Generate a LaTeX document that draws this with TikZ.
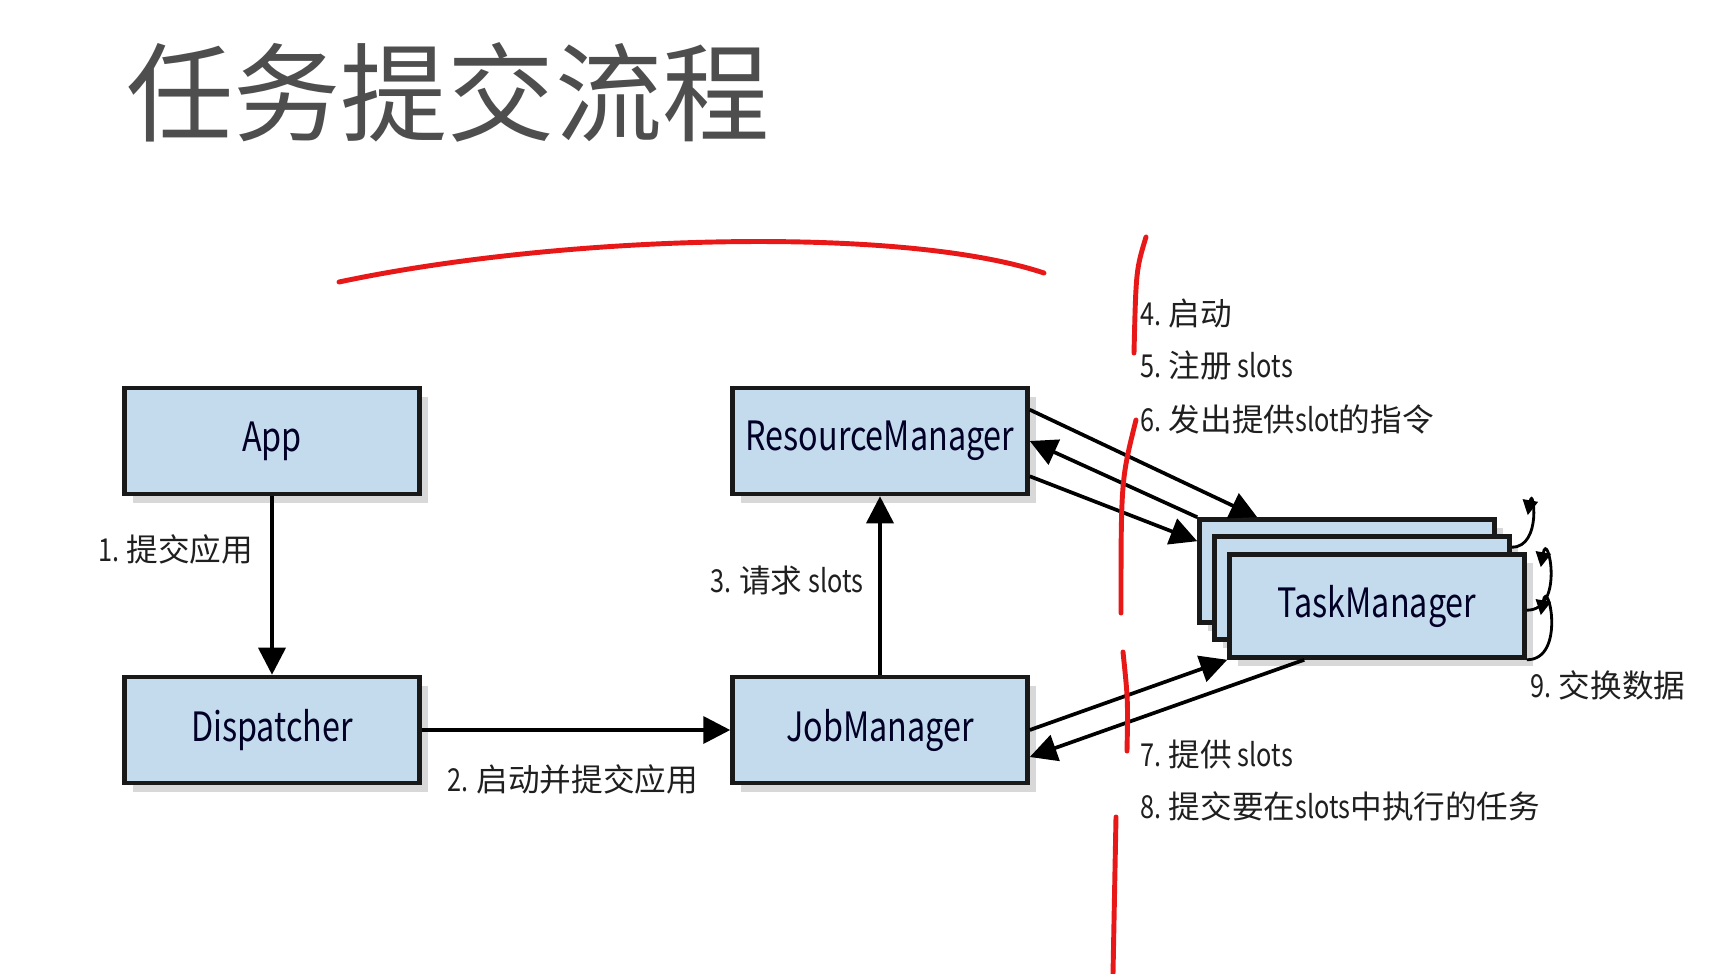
\documentclass[tikz,border=0pt]{standalone}
\usepackage{fontspec}
\usepackage{xcolor}
\usepackage{tikz}
\setmainfont[FakeStretch=0.8]{Noto Sans CJK SC}
\newfontfamily\zhfont{Noto Sans CJK SC}
\newcommand{\cn}[1]{{\zhfont #1}}
\usetikzlibrary{arrows.meta,shadows}
\definecolor{boxblue}{RGB}{196,218,237}
\definecolor{inkred}{RGB}{232,24,24}
\definecolor{titlegray}{RGB}{78,78,78}

\begin{document}
\begin{tikzpicture}[x=0.02cm, y=-0.02cm,
    box/.style={draw=black!90, line width=2.6pt, fill=boxblue, minimum width=5.9cm, minimum height=2.12cm,
        font=\fontsize{23}{24}\selectfont, text=black!85!blue,
        drop shadow={shadow xshift=5pt, shadow yshift=-5pt, opacity=0.3}},
    tmbox/.style={box, minimum height=2.06cm},
    lbl/.style={font=\fontsize{18}{20}\selectfont, text=black!88, inner sep=0pt},
    arr/.style={-{Triangle[width=0.54cm,length=0.54cm]}, line width=2.1pt},
    swap/.style={-{Triangle[width=0.3cm,length=0.3cm]}, line width=1.6pt},
    pen/.style={inkred, line width=2.8pt, line cap=round}]

    \useasboundingbox[fill=white] (0,0) rectangle (1732,974);

    \node[anchor=west, inner sep=0pt, font=\fontsize{61}{64}\selectfont, text=titlegray] (title) at (126,92) {\cn{任务提交流程}};

    \node[box] (app) at (272,441) {App};
    \node[box] (disp) at (272,730) {Dispatcher};
    \node[box] (rm) at (880,441) {ResourceManager};
    \node[box] (jm) at (880,730) {JobManager};
    \node[tmbox] (tm3) at (1347,571) {};
    \node[tmbox] (tm2) at (1362,588) {};
    \node[tmbox] (tm1) at (1377,606) {TaskManager};

    \draw[arr] (app) -- node[lbl, left=0.34cm, pos=0.3] (l1) {1. \cn{提交应用}} (disp);
    \draw[arr] (disp) -- node[lbl, below=0.66cm, pos=0.49] (l2) {2. \cn{启动并提交应用}} (jm);
    \draw[arr] (jm) -- node[lbl, left=0.3cm, pos=0.53] (l3) {3. \cn{请求} slots} (rm);

    \draw[arr] ([yshift=-0.48cm]rm.north east) -- ([xshift=1.2cm]tm3.north west);
    \draw[arr] (tm3.north west) -- (rm.east);
    \draw[arr] ([yshift=0.4cm]rm.south east) -- ([yshift=-0.48cm]tm3.north west);
    \draw[arr] (jm.east) -- (tm1.south west);
    \draw[arr] ([xshift=1.54cm]tm1.south west) -- ([yshift=-0.54cm]jm.east);

    \draw[swap] ([yshift=-0.26cm]tm2.north east) to[out=0, in=80, looseness=2.2] ([xshift=0.62cm, yshift=0.04cm]tm3.north east);
    \draw[swap] ([yshift=-1.16cm]tm1.north east) to[out=0, in=80, looseness=2.2] ([xshift=0.28cm, yshift=-0.3cm]tm1.north east);
    \draw[swap] (tm1.south east) to[out=0, in=80, looseness=2.2] ([xshift=0.28cm, yshift=-1.26cm]tm1.north east);

    \node[lbl, anchor=west] (l4) at (1140,313) {4. \cn{启动}};
    \node[lbl, anchor=west] (l5) at (1140,366) {5. \cn{注册} slots};
    \node[lbl, anchor=west] (l6) at (1140,419) {6. \cn{发出提供}slot\cn{的指令}};
    \node[lbl, anchor=west] (l7) at (1140,754) {7. \cn{提供} slots};
    \node[lbl, anchor=west] (l8) at (1140,806) {8. \cn{提交要在}slots\cn{中执行的任务}};
    \node[lbl, anchor=west] (l9) at (1530,685) {9. \cn{交换数据}};

    \draw[pen] (339,282) .. controls (560,235) and (900,225) .. (1044,273);
    \draw[pen] (1146,237) .. controls (1136,270) .. (1134,353);
    \draw[pen] (1136,420) .. controls (1121,480) .. (1121,613);
    \draw[pen] (1123,652) .. controls (1128,700) .. (1127,751);
    \draw[pen] (1116,817) -- (1113,974);
\end{tikzpicture}
\end{document}
